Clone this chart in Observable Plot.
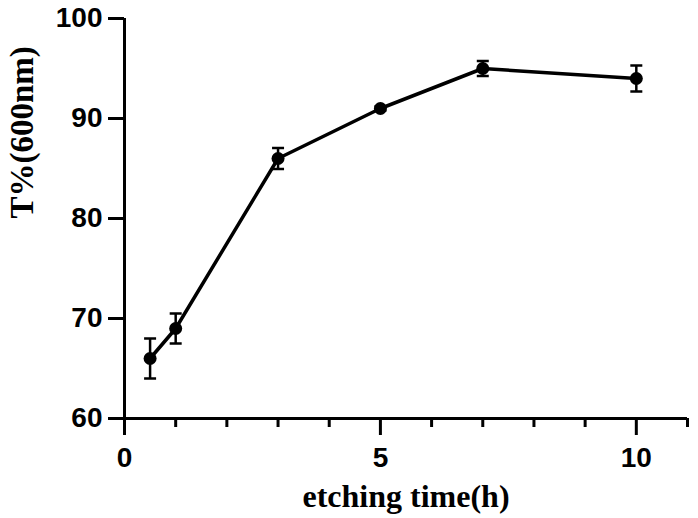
<!DOCTYPE html>
<html>
<head>
<meta charset="utf-8">
<script src="https://cdn.jsdelivr.net/npm/d3@7"></script>
<script src="https://cdn.jsdelivr.net/npm/@observablehq/plot@0.6"></script>
<style>
  html, body { margin: 0; padding: 0; background: #fff; }
</style>
</head>
<body>
<div id="chart"></div>
<script>
const time = [0.5, 1, 3, 5, 7, 10];
const transmittance = [66, 69, 86, 91, 95, 94];
const errorSD = [2, 1.5, 1.05, 0.2, 0.75, 1.3];
const xMajorTicks = [0, 5, 10];
const xMinorTicks = [1, 2, 3, 4, 6, 7, 8, 9, 11];
const yTicks = [60, 70, 80, 90, 100];
const xTitle = "etching time(h)";
const yTitle = "T%(600nm)";

const data = time.map((t, i) => ({
  t, v: transmittance[i], lo: transmittance[i] - errorSD[i], hi: transmittance[i] + errorSD[i]
}));

const capSymbol = {
  draw(context) {
    context.moveTo(-6, 0);
    context.lineTo(6, 0);
  }
};

const tickFont = {fontFamily: "Liberation Sans, Arial, sans-serif", fontWeight: "bold", fontSize: 28};

const chart = Plot.plot({
  width: 698,
  height: 518,
  marginLeft: 124,
  marginRight: 11,
  marginTop: 18,
  marginBottom: 100,
  style: {background: "#fff", color: "#000", fontFamily: "Liberation Sans, Arial, sans-serif", fontWeight: "bold", fontSize: "28px"},
  x: {domain: [0, 11]},
  y: {domain: [60, 100]},
  marks: [
    Plot.ruleX([0], {y1: 60, y2: 100, stroke: "#000", strokeWidth: 3}),
    Plot.ruleY([60], {x1: 0, x2: 11, stroke: "#000", strokeWidth: 3}),
    Plot.axisY({ticks: yTicks, tickSize: 16, tickPadding: 6, strokeWidth: 3, label: null, ...tickFont}),
    Plot.axisX({ticks: xMajorTicks, tickSize: 17, tickPadding: 12, strokeWidth: 3, label: null, ...tickFont}),
    Plot.axisX({ticks: xMinorTicks, tickSize: 9, strokeWidth: 3, text: null, label: null}),
    Plot.ruleX(data, {x: "t", y1: "lo", y2: "hi", stroke: "#000", strokeWidth: 2.5}),
    Plot.dot(data, {x: "t", y: "lo", symbol: capSymbol, stroke: "#000", strokeWidth: 2.5, fill: "none"}),
    Plot.dot(data, {x: "t", y: "hi", symbol: capSymbol, stroke: "#000", strokeWidth: 2.5, fill: "none"}),
    Plot.line(data, {x: "t", y: "v", stroke: "#000", strokeWidth: 3.5}),
    Plot.dot(data, {x: "t", y: "v", r: 6.5, fill: "#000", stroke: "none"}),
    Plot.text([xTitle], {frameAnchor: "bottom", dy: 88, fontFamily: "Liberation Serif, Times New Roman, serif", fontWeight: "bold", fontSize: 32, fill: "#000"}),
    Plot.text([yTitle], {frameAnchor: "left", dx: -102, rotate: -90, fontFamily: "Liberation Serif, Times New Roman, serif", fontWeight: "bold", fontSize: 33, fill: "#000"})
  ]
});
document.getElementById("chart").appendChild(chart);
</script>
</body>
</html>
